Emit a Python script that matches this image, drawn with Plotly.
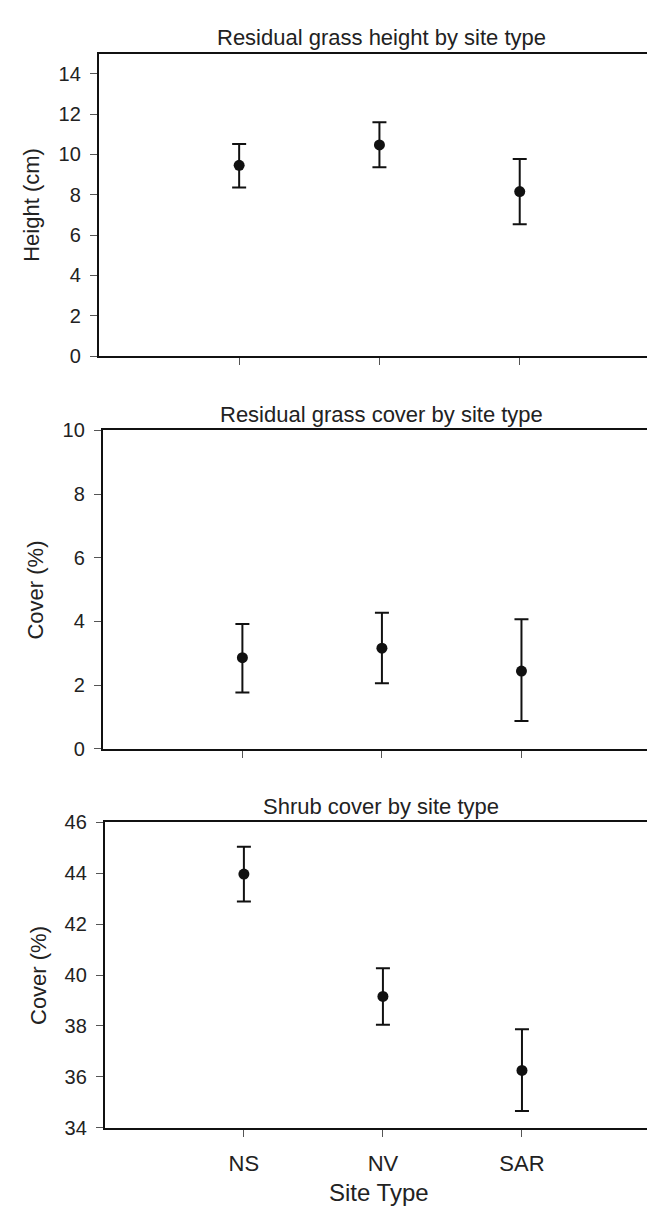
import plotly.graph_objects as go

sites = ["NS", "NV", "SAR"]
site_pos = [1, 2, 3]

height_mean = [9.46, 10.47, 8.16]
height_hi = [10.52, 11.60, 9.77]
height_lo = [8.36, 9.37, 6.54]

grass_mean = [2.86, 3.16, 2.44]
grass_hi = [3.92, 4.27, 4.07]
grass_lo = [1.77, 2.06, 0.87]

shrub_mean = [43.97, 39.16, 36.25]
shrub_hi = [45.04, 40.27, 37.87]
shrub_lo = [42.89, 38.05, 34.66]

titles = ["Residual grass height by site type",
          "Residual grass cover by site type",
          "Shrub cover by site type"]
ytitles = ["Height (cm)", "Cover (%)", "Cover (%)"]
yranges = [[0, 15], [0, 10], [34, 46]]
ytickvals = [[0, 2, 4, 6, 8, 10, 12, 14], [0, 2, 4, 6, 8, 10], [34, 36, 38, 40, 42, 44, 46]]

W, H = 655, 1207
# pixel layout (left, right, top, bottom)
boxes = [(91, 653, 35.3, 343.3), (95, 654, 419.0, 743.3), (97, 654, 818.3, 1129.3)]

FONT = "Liberation Sans, Arial, sans-serif"
fig = go.Figure()

series = [(height_mean, height_hi, height_lo),
          (grass_mean, grass_hi, grass_lo),
          (shrub_mean, shrub_hi, shrub_lo)]

for i, (m, hi, lo) in enumerate(series):
    sfx = "" if i == 0 else str(i + 1)
    fig.add_trace(go.Scatter(
        x=site_pos, y=m, mode="markers",
        marker=dict(size=11, color="#111111"),
        error_y=dict(type="data", symmetric=False,
                     array=[h - v for h, v in zip(hi, m)],
                     arrayminus=[v - l for v, l in zip(m, lo)],
                     color="#111111", thickness=2, width=7),
        xaxis="x" + sfx, yaxis="y" + sfx, showlegend=False))

annotations = []
for i in range(3):
    l, r, t, b = boxes[i]
    sfx = "" if i == 0 else str(i + 1)
    xd = [l / W, r / W]
    yd = [1 - b / H, 1 - t / H]
    last = (i == 2)
    fig.update_layout(**{
        "xaxis" + sfx: dict(
            domain=xd, range=[0, 4], anchor="y" + sfx,
            tickmode="array", tickvals=site_pos,
            ticktext=sites if last else ["", "", ""],
            showticklabels=last,
            ticks="outside", ticklen=7, tickwidth=1, tickcolor="#555555",
            showline=True, linecolor="#111111", linewidth=2, mirror=True,
            showgrid=False, zeroline=False,
            tickfont=dict(family=FONT, size=22, color="#222222"),
            ticklabelstandoff=8,
        ),
        "yaxis" + sfx: dict(
            domain=yd, range=yranges[i], anchor="x" + sfx,
            tickmode="array", tickvals=ytickvals[i],
            ticks="outside", ticklen=7, tickwidth=1, tickcolor="#555555",
            showline=True, linecolor="#111111", linewidth=2, mirror=True,
            showgrid=False, zeroline=False,
            tickfont=dict(family=FONT, size=20, color="#222222"),
            ticklabelstandoff=5,
        ),
    })
    annotations.append(dict(
        text=titles[i], x=374 / W, y=1 - (t - 16) / H,
        xref="paper", yref="paper", xanchor="center", yanchor="middle",
        showarrow=False, font=dict(family=FONT, size=22, color="#222222")))
    annotations.append(dict(
        text=ytitles[i], x=(l - 67) / W, y=1 - ((t + b) / 2) / H,
        xref="paper", yref="paper", xanchor="center", yanchor="middle",
        textangle=-90, showarrow=False,
        font=dict(family=FONT, size=22, color="#222222")))

annotations.append(dict(
    text="Site Type", x=372 / W, y=1 - 1195 / H,
    xref="paper", yref="paper", xanchor="center", yanchor="middle",
    showarrow=False, font=dict(family=FONT, size=24, color="#222222")))

fig.update_layout(
    width=W, height=H,
    margin=dict(l=0, r=0, t=0, b=0),
    paper_bgcolor="white", plot_bgcolor="white",
    annotations=annotations,
)

fig.write_html("out.html")
